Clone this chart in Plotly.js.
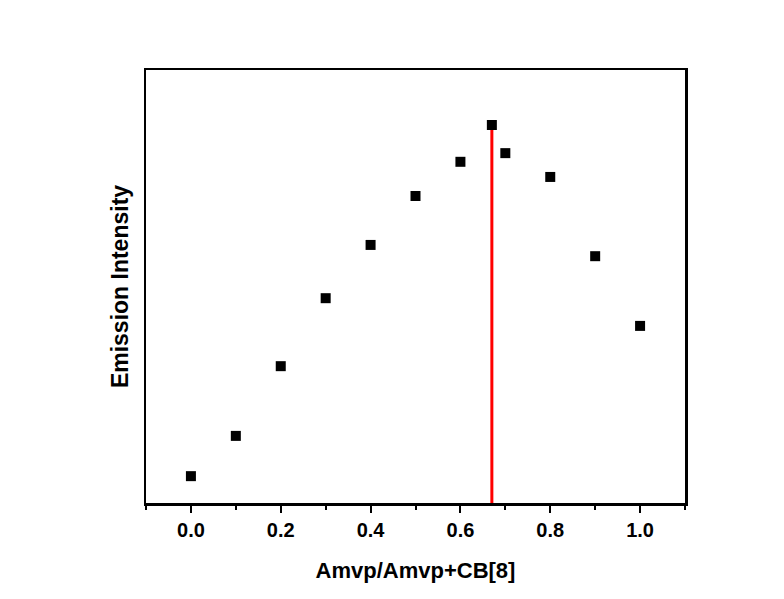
<!DOCTYPE html>
<html>
<head>
<meta charset="utf-8">
<script src="https://cdn.plot.ly/plotly-3.0.1.min.js"></script>
<style>html,body{margin:0;padding:0;background:#fff;}#chart{width:784px;height:599px;}</style>
</head>
<body>
<div id="chart"></div>
<script>
// Molar fraction (Job's plot)
const fractions = [0.0, 0.1, 0.2, 0.3, 0.4, 0.5, 0.6, 0.67, 0.7, 0.8, 0.9, 1.0];
const intensities = [6.2, 15.5, 31.6, 47.3, 59.6, 70.9, 78.8, 87.3, 80.8, 75.3, 57.0, 40.9];
const peakX = [0.67, 0.67];
const peakY = [0, 87.3];
const xTickVals = [0.0, 0.2, 0.4, 0.6, 0.8, 1.0];
const xTickText = ["0.0", "0.2", "0.4", "0.6", "0.8", "1.0"];

const font = "Liberation Sans, Arial, sans-serif";

const data = [
  {
    x: peakX, y: peakY, type: "scatter", mode: "lines",
    line: {color: "#ff0000", width: 3}, hoverinfo: "skip", showlegend: false
  },
  {
    x: fractions, y: intensities, type: "scatter", mode: "markers",
    marker: {symbol: "square", size: 10, color: "#000000"}, showlegend: false
  }
];

const layout = {
  width: 784, height: 599,
  margin: {l: 146, r: 99, t: 70, b: 96},
  paper_bgcolor: "#ffffff", plot_bgcolor: "#ffffff",
  xaxis: {
    range: [-0.1, 1.1],
    tickvals: xTickVals, ticktext: xTickText,
    ticks: "outside", ticklen: 7, tickwidth: 2, tickcolor: "#000",
    minor: {dtick: 0.1, tick0: 0, ticks: "outside", ticklen: 4, tickwidth: 2, tickcolor: "#000"},
    showgrid: false, zeroline: false,
    showline: true, linewidth: 2.5, linecolor: "#000", mirror: true,
    tickfont: {family: font, size: 20, color: "#000", weight: "bold"},
    title: {text: "<b>Amvp/Amvp+CB[8]</b>", font: {family: font, size: 22, color: "#000"}, standoff: 23}
  },
  yaxis: {
    range: [0, 100],
    showticklabels: false, ticks: "",
    showgrid: false, zeroline: false,
    showline: true, linewidth: 2.5, linecolor: "#000", mirror: true,
    title: {text: "<b>Emission Intensity</b>", font: {family: font, size: 23, color: "#000"}, standoff: 9}
  }
};

Plotly.newPlot("chart", data, layout, {displayModeBar: false, staticPlot: true});
</script>
</body>
</html>
